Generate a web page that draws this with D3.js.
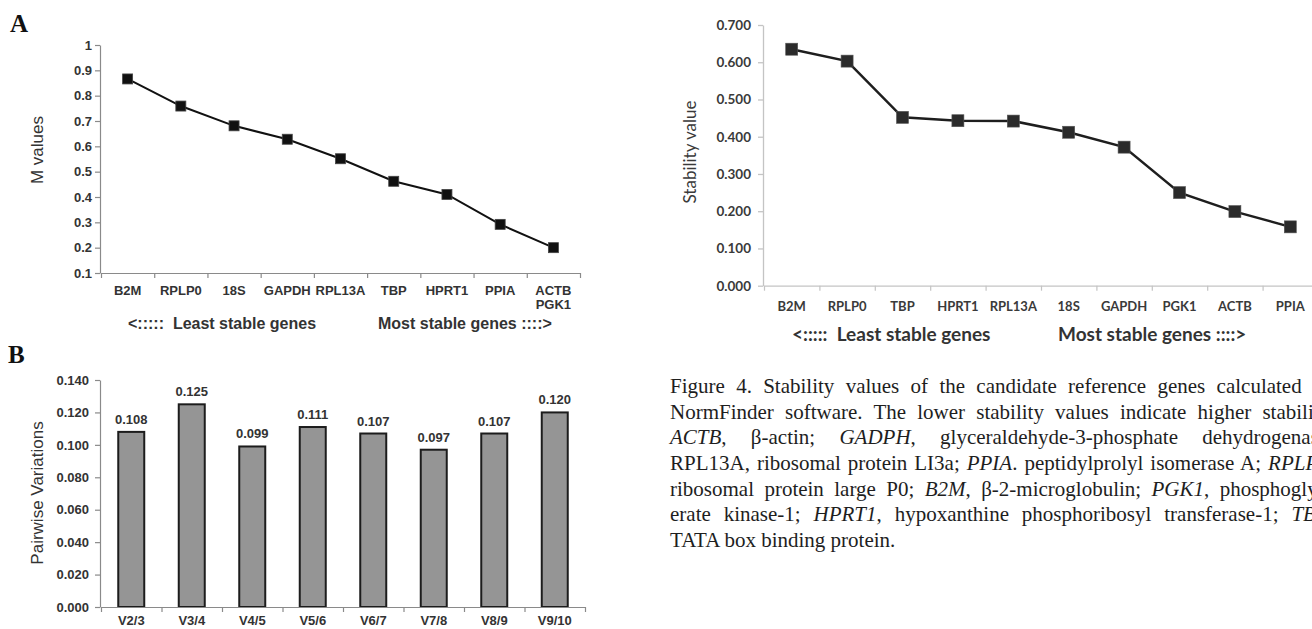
<!DOCTYPE html>
<html><head><meta charset="utf-8">
<script src="https://cdn.jsdelivr.net/npm/d3@7"></script>
<style>
html,body{margin:0;padding:0;background:#fff;overflow:hidden}
svg{display:block}
</style>
</head><body>
<svg id="fig" width="1312" height="629"></svg>
<script>
// ---------------- DATA ----------------
const genesA = ["B2M","RPLP0","18S","GAPDH","RPL13A","TBP","HPRT1","PPIA","ACTB|PGK1"];
const mValues = [0.866,0.759,0.681,0.628,0.551,0.462,0.410,0.292,0.200];
const ticksA = [0.1,0.2,0.3,0.4,0.5,0.6,0.7,0.8,0.9,1];

const pairLabels = ["V2/3","V3/4","V4/5","V5/6","V6/7","V7/8","V8/9","V9/10"];
const pairValues = [0.108,0.125,0.099,0.111,0.107,0.097,0.107,0.120];
const ticksB = [0,0.02,0.04,0.06,0.08,0.10,0.12,0.14];

const genesC = ["B2M","RPLP0","TBP","HPRT1","RPL13A","18S","GAPDH","PGK1","ACTB","PPIA"];
const stabilityValues = [0.635,0.603,0.452,0.443,0.442,0.412,0.372,0.250,0.199,0.158];
const ticksC = [0,0.1,0.2,0.3,0.4,0.5,0.6,0.7];

const captionLines = [
  [["Figure 4. Stability values of the candidate reference genes calculated by",0]],
  [["NormFinder software. The lower stability values indicate higher stability.",0]],
  [["ACTB",1],[", β-actin; ",0],["GADPH",1],[", glyceraldehyde-3-phosphate dehydrogenase;",0]],
  [["RPL13A, ribosomal protein LI3a; ",0],["PPIA",1],[". peptidylprolyl isomerase A; ",0],["RPLP0",1],[",",0]],
  [["ribosomal protein large P0; ",0],["B2M",1],[", β-2-microglobulin; ",0],["PGK1",1],[", phosphoglyc-",0]],
  [["erate kinase-1; ",0],["HPRT1",1],[", hypoxanthine phosphoribosyl transferase-1; ",0],["TBP",1],[",",0]],
  [["TATA box binding protein.",0]]
];

// ---------------- DRAW ----------------
const svg = d3.select("#fig");
const ARIAL = "'Liberation Sans', Arial, sans-serif";
const CAL = "Lato, 'Open Sans', sans-serif";
const SERIF = "'Liberation Serif', 'Times New Roman', serif";

// panel letters
svg.append("text").attr("x",10).attr("y",32).text("A")
  .attr("font-family",SERIF).attr("font-weight","bold").attr("font-size",25).attr("fill","#111");
svg.append("text").attr("x",8).attr("y",363).text("B")
  .attr("font-family",SERIF).attr("font-weight","bold").attr("font-size",25).attr("fill","#111");

function boundaryAxis(g, band, n, y, color, len){
  const lin = d3.scaleLinear().domain([0,n]).range(band.range());
  const ax = g.append("g").attr("transform",`translate(0,${y})`)
    .call(d3.axisBottom(lin).tickValues(d3.range(0,n+1)).tickFormat("").tickSize(len).tickSizeOuter(0));
  ax.selectAll("path,line").attr("stroke",color).attr("stroke-width",1.2);
  return ax;
}

// ===== Panel A =====
(function(){
  const g = svg.append("g");
  const x = d3.scaleBand().domain(genesA).range([101,580]);
  const y = d3.scaleLinear().domain([0.1,1]).range([273,45]);
  const ya = g.append("g").attr("transform","translate(100,0)")
    .call(d3.axisLeft(y).tickValues(ticksA).tickFormat(d=>d===1?"1":d3.format(".1f")(d)).tickSize(5).tickSizeOuter(0).tickPadding(3));
  ya.selectAll("path,line").attr("stroke","#8a8a8a").attr("stroke-width",1.2);
  ya.selectAll("text").attr("font-family",ARIAL).attr("font-weight","bold").attr("font-size",13).attr("fill","#333");
  boundaryAxis(g, x, genesA.length, 273, "#8a8a8a", 5);
  const lab = g.selectAll("text.xl").data(genesA).join("text").attr("class","xl")
    .attr("x",d=>x(d)+x.bandwidth()/2).attr("y",295).attr("text-anchor","middle")
    .attr("font-family",ARIAL).attr("font-weight","bold").attr("font-size",13).attr("fill","#333");
  lab.each(function(d){
    const parts = d.split("|");
    d3.select(this).selectAll("tspan").data(parts).join("tspan")
      .attr("x",x(d)+x.bandwidth()/2).attr("dy",(p,i)=>i?14:0).text(p=>p);
  });
  const line = d3.line().x((d,i)=>x(genesA[i])+x.bandwidth()/2).y(d=>y(d));
  g.append("path").datum(mValues).attr("d",line).attr("fill","none").attr("stroke","#111").attr("stroke-width",2);
  const s=10;
  g.selectAll("rect.mk").data(mValues).join("rect").attr("class","mk")
    .attr("x",(d,i)=>x(genesA[i])+x.bandwidth()/2-s/2).attr("y",d=>y(d)-s/2)
    .attr("width",s).attr("height",s).attr("fill","#111").attr("stroke","#444").attr("stroke-width",0.8);
  g.append("text").attr("transform","translate(43,150) rotate(-90)").attr("text-anchor","middle")
    .attr("font-family",ARIAL).attr("font-size",17).attr("fill","#333").text("M values");
  g.append("text").attr("x",128).attr("y",329).attr("font-family",ARIAL).attr("font-weight","bold")
    .attr("font-size",16).attr("fill","#333").attr("xml:space","preserve").text("<:::::  Least stable genes");
  g.append("text").attr("x",378).attr("y",329).attr("font-family",ARIAL).attr("font-weight","bold")
    .attr("font-size",16).attr("fill","#333").text("Most stable genes ::::>");
})();

// ===== Panel B =====
(function(){
  const g = svg.append("g");
  const x = d3.scaleBand().domain(pairLabels).range([101,585]);
  const y = d3.scaleLinear().domain([0,0.14]).range([607,380]);
  const ya = g.append("g").attr("transform","translate(100,0)")
    .call(d3.axisLeft(y).tickValues(ticksB).tickFormat(d3.format(".3f")).tickSize(5).tickSizeOuter(0).tickPadding(6));
  ya.selectAll("path,line").attr("stroke","#8a8a8a").attr("stroke-width",1.2);
  ya.selectAll("text").attr("font-family",ARIAL).attr("font-weight","bold").attr("font-size",13).attr("fill","#333");
  const bw = 26;
  g.selectAll("rect.bar").data(pairValues).join("rect").attr("class","bar")
    .attr("x",(d,i)=>x(pairLabels[i])+x.bandwidth()/2-bw/2).attr("y",d=>y(d))
    .attr("width",bw).attr("height",d=>y(0)-y(d))
    .attr("fill","#959595").attr("stroke","#1c1c1c").attr("stroke-width",2);
  boundaryAxis(g, x, pairLabels.length, 607, "#8a8a8a", 5);
  g.selectAll("text.vl").data(pairValues).join("text").attr("class","vl")
    .attr("x",(d,i)=>x(pairLabels[i])+x.bandwidth()/2).attr("y",d=>y(d)-8).attr("text-anchor","middle")
    .attr("font-family",ARIAL).attr("font-weight","bold").attr("font-size",13).attr("fill","#333")
    .text(d=>d3.format(".3f")(d));
  g.selectAll("text.xl").data(pairLabels).join("text").attr("class","xl")
    .attr("x",d=>x(d)+x.bandwidth()/2).attr("y",625).attr("text-anchor","middle")
    .attr("font-family",ARIAL).attr("font-weight","bold").attr("font-size",13).attr("fill","#333").text(d=>d);
  g.append("text").attr("transform","translate(43,493) rotate(-90)").attr("text-anchor","middle")
    .attr("font-family",ARIAL).attr("font-size",17).attr("fill","#333").text("Pairwise Variations");
})();

// ===== Panel C =====
(function(){
  const g = svg.append("g");
  const x = d3.scaleBand().domain(genesC).range([764,1318]);
  const y = d3.scaleLinear().domain([0,0.7]).range([285.7,25]);
  const ya = g.append("g").attr("transform","translate(763,0)")
    .call(d3.axisLeft(y).tickValues(ticksC).tickFormat(d3.format(".3f")).tickSize(5).tickSizeOuter(0).tickPadding(7));
  ya.selectAll("path,line").attr("stroke","#c4c4c4").attr("stroke-width",1.3);
  ya.selectAll("text").attr("font-family",CAL).attr("font-weight","bold").attr("font-size",13.5).attr("fill","#3a3a3a");
  boundaryAxis(g, x, genesC.length, 285.7, "#c4c4c4", 5);
  g.selectAll("text.xl").data(genesC).join("text").attr("class","xl")
    .attr("x",d=>x(d)+x.bandwidth()/2).attr("y",311).attr("text-anchor","middle")
    .attr("font-family",CAL).attr("font-weight","bold").attr("font-size",13).attr("fill","#3a3a3a").text(d=>d);
  const line = d3.line().x((d,i)=>x(genesC[i])+x.bandwidth()/2).y(d=>y(d));
  g.append("path").datum(stabilityValues).attr("d",line).attr("fill","none").attr("stroke","#1e1e1e").attr("stroke-width",2.5);
  const s=12;
  g.selectAll("rect.mk").data(stabilityValues).join("rect").attr("class","mk")
    .attr("x",(d,i)=>x(genesC[i])+x.bandwidth()/2-s/2).attr("y",d=>y(d)-s/2)
    .attr("width",s).attr("height",s).attr("fill","#2b2b2b").attr("stroke","#555").attr("stroke-width",0.6);
  g.append("text").attr("transform","translate(696,152) rotate(-90)").attr("text-anchor","middle")
    .attr("font-family",CAL).attr("font-size",17).attr("fill","#3a3a3a").text("Stability value");
  g.append("text").attr("x",792).attr("y",341).attr("font-family",CAL).attr("font-weight","bold")
    .attr("font-size",19).attr("fill","#333").attr("xml:space","preserve").text("<:::::  Least stable genes");
  g.append("text").attr("x",1058).attr("y",341).attr("font-family",CAL).attr("font-weight","bold")
    .attr("font-size",19).attr("fill","#333").text("Most stable genes ::::>");
})();

// ===== Caption =====
(function(){
  const g = svg.append("g");
  const x0 = 670, colW = 664, y0 = 393.2, lh = 25.6;
  captionLines.forEach((segs,i)=>{
    const t = g.append("text").attr("x",x0).attr("y",y0+i*lh)
      .attr("font-family",SERIF).attr("font-size",21).attr("fill","#1e1e1e");
    segs.forEach(([s,it])=>{
      t.append("tspan").attr("font-style",it?"italic":"normal").text(s);
    });
    if(i<captionLines.length-1){
      const full = segs.map(s=>s[0]).join("");
      const nsp = (full.match(/ /g)||[]).length;
      const nat = t.node().getComputedTextLength();
      const ws = Math.max(0,(colW-nat)/nsp);
      t.attr("word-spacing",ws);
    }
  });
})();
</script>
</body></html>
